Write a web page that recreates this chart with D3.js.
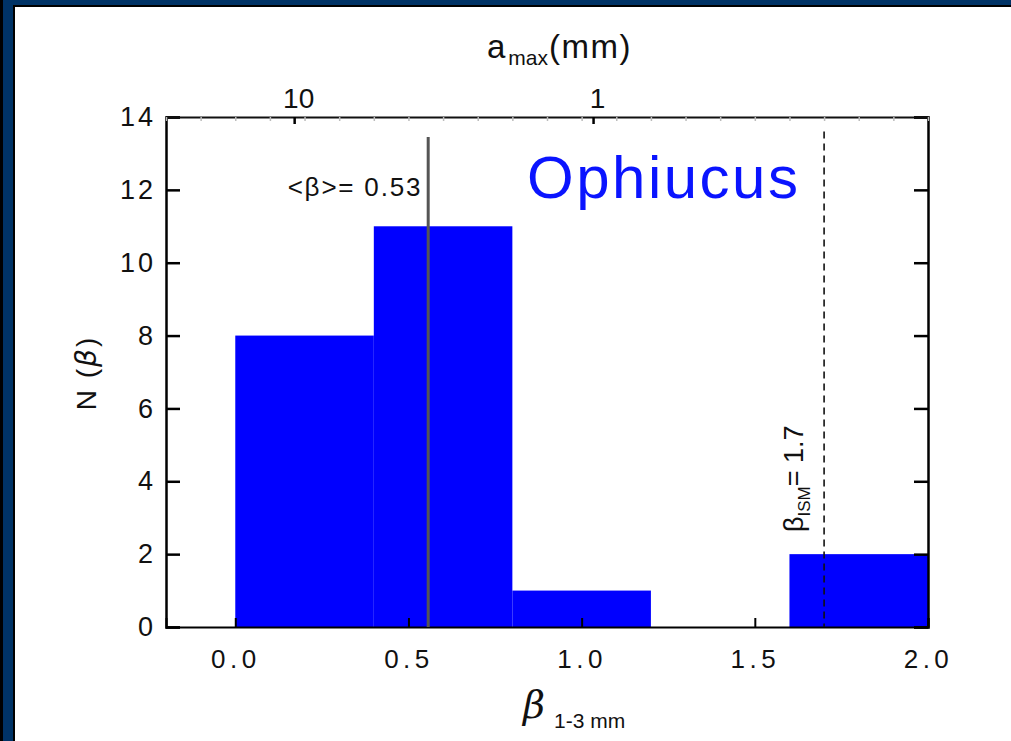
<!DOCTYPE html>
<html><head><meta charset="utf-8">
<script src="https://cdn.jsdelivr.net/npm/d3@7"></script>
<style>
html,body{margin:0;padding:0;background:#fff;overflow:hidden;}
svg{display:block;}
</style></head>
<body>
<svg id="c" width="1011" height="741"></svg>
<script>
// ---- data ----
const binStarts = [0.0, 0.4, 0.8, 1.2, 1.6];
const binWidth = 0.4;
const counts = [8, 11, 1, 0, 2];
const meanBeta = 0.557;          // position of the drawn mean line
const meanLabel = "<β>= 0.53";
const betaISM = 1.7;
const xMajorTicks = [0.0, 0.5, 1.0, 1.5, 2.0];
const yMajorTicks = [0, 2, 4, 6, 8, 10, 12, 14];
const aMaxTickLabels = ["10", "1"];
const aMaxTickBeta = [0.17, 1.033]; // beta positions of a_max = 10, 1 mm

const svg = d3.select("#c");
const W = 1011, H = 741;
const L = 166, R = 928, T = 117, B = 627;

// frame
svg.append("rect").attr("x",0).attr("y",0).attr("width",W).attr("height",H).attr("fill","#fff");
svg.append("rect").attr("x",0).attr("y",0).attr("width",W).attr("height",5).attr("fill","#003366");
svg.append("rect").attr("x",0).attr("y",5).attr("width",W).attr("height",2).attr("fill","#000");
svg.append("rect").attr("x",0).attr("y",0).attr("width",3).attr("height",H).attr("fill","#000");
svg.append("rect").attr("x",3).attr("y",0).attr("width",11).attr("height",H).attr("fill","#003366");
svg.append("rect").attr("x",13).attr("y",5).attr("width",2).attr("height",H).attr("fill","#000");

const x = d3.scaleLinear().domain([-0.2, 2.0]).range([L, R]);
const y = d3.scaleLinear().domain([0, 14]).range([B, T]);

// bars
svg.append("g").selectAll("rect").data(binStarts).join("rect")
  .attr("x", (d) => x(d))
  .attr("width", (d) => x(d + binWidth) - x(d))
  .attr("y", (d, i) => y(counts[i]))
  .attr("height", (d, i) => y(0) - y(counts[i]))
  .attr("fill", "#0000ff");

const tickFont = "'Liberation Sans', Arial, sans-serif";

// minor tick values
const xMinor = d3.range(-2, 21).map(i => i / 10);
const yMinor = d3.range(0, 29).map(i => i / 2);

// left axis
const gl = svg.append("g").attr("transform", `translate(${L},0)`);
gl.call(d3.axisLeft(y).tickValues(yMinor).tickSize(-7).tickFormat(""));
gl.call(d3.axisLeft(y).tickValues(yMajorTicks).tickSize(-14).tickPadding(10).tickFormat(d3.format("d")));
gl.selectAll("path.domain").attr("stroke-width", 2.5).attr("stroke","#000");
gl.selectAll("line").attr("stroke-width", 2.5).attr("stroke","#000");
gl.selectAll("text").attr("font-family", tickFont).attr("font-size", 27).attr("letter-spacing", 3).attr("fill","#111");

// right axis
const gr = svg.append("g").attr("transform", `translate(${R},0)`);
gr.call(d3.axisRight(y).tickValues(yMinor).tickSize(-7).tickFormat(""));
gr.call(d3.axisRight(y).tickValues(yMajorTicks).tickSize(-14).tickFormat(""));
gr.selectAll("path.domain").attr("stroke-width", 2.5).attr("stroke","#000");
gr.selectAll("line").attr("stroke-width", 2.5).attr("stroke","#000");

// bottom axis
const gb = svg.append("g").attr("transform", `translate(0,${B})`);
gb.call(d3.axisBottom(x).tickValues(xMinor).tickSize(-5).tickFormat(""));
gb.call(d3.axisBottom(x).tickValues(xMajorTicks).tickSize(-9).tickPadding(23).tickFormat(d3.format(".1f")));
gb.selectAll("path.domain").attr("stroke-width", 2).attr("stroke","#000");
gb.selectAll("line").attr("stroke-width", 2).attr("stroke","#000");
gb.selectAll("text").attr("font-family", tickFont).attr("font-size", 26).attr("letter-spacing", 4.5).attr("fill","#111");

// top axis (mirror ticks, faint) and a_max ticks
const gt = svg.append("g").attr("transform", `translate(0,${T})`);
gt.call(d3.axisTop(x).tickValues(xMinor).tickSize(-4).tickFormat(""));
gt.selectAll("line").attr("stroke", "#bbb").attr("stroke-width", 1.5);
gt.selectAll("path.domain").attr("stroke-width", 2).attr("stroke","#111");
const gt2 = svg.append("g").attr("transform", `translate(0,${T})`);
gt2.call(d3.axisTop(x).tickValues(aMaxTickBeta).tickSize(-7).tickPadding(9)
  .tickFormat((d, i) => aMaxTickLabels[i]));
gt2.select("path.domain").remove();
gt2.selectAll("line").attr("stroke", "#000").attr("stroke-width", 2.5);
gt2.selectAll("text").attr("font-family", tickFont).attr("font-size", 28).attr("dx", 4).attr("fill","#111");

// mean line
svg.append("line").attr("x1", x(meanBeta)).attr("x2", x(meanBeta))
  .attr("y1", y(13.45)).attr("y2", y(0))
  .attr("stroke", "#555").attr("stroke-width", 3);
svg.append("text").attr("x", x(meanBeta) - 6).attr("y", 196)
  .attr("text-anchor", "end").attr("font-family", tickFont).attr("font-size", 26).attr("letter-spacing", 1.8).attr("fill","#111")
  .text(meanLabel);

// ISM dashed line
svg.append("line").attr("x1", x(betaISM)).attr("x2", x(betaISM))
  .attr("y1", y(13.6)).attr("y2", y(0))
  .attr("stroke", "#111").attr("stroke-width", 1.6).attr("stroke-dasharray", "7,5");
const ism = svg.append("text")
  .attr("transform", `translate(${x(betaISM) - 21},532) rotate(-90)`)
  .attr("font-family", tickFont).attr("font-size", 27).attr("fill","#111");
ism.append("tspan").text("β");
ism.append("tspan").attr("font-size", 17).attr("dy", 7).text("ISM");
ism.append("tspan").attr("dy", -7).text("= 1.7");

// Ophiucus
svg.append("text").attr("x", 527).attr("y", 198)
  .attr("font-family", tickFont).attr("font-size", 60).attr("letter-spacing", 2.5).attr("fill", "#0a14ff")
  .text("Ophiucus");

// top title a_max (mm)
const tt = svg.append("text").attr("x", 487).attr("y", 58)
  .attr("font-family", tickFont).attr("font-size", 33).attr("fill","#111");
tt.append("tspan").text("a");
tt.append("tspan").attr("font-size", 21).attr("dy", 7).attr("dx", 3).text("max");
tt.append("tspan").attr("dy", -7).attr("dx", 1).attr("letter-spacing", 1.5).text("(mm)");

// y label
const yl = svg.append("text")
  .attr("transform", "translate(96,373) rotate(-90)")
  .attr("text-anchor", "middle")
  .attr("font-family", tickFont).attr("font-size", 28).attr("letter-spacing", 2).attr("fill","#111");
yl.append("tspan").text("N (");
yl.append("tspan").attr("font-style", "italic").attr("font-family","'DejaVu Sans', sans-serif").text("β");
yl.append("tspan").text(")");

// x label
const xl = svg.append("text").attr("x", 523).attr("y", 718)
  .attr("fill","#111");
xl.append("tspan").attr("font-family", "'DejaVu Serif', serif").attr("font-style","italic").attr("font-size", 38).text("β");
xl.append("tspan").attr("font-family", tickFont).attr("font-size", 21).attr("dx", 9).attr("dy", 10).text("1-3 mm");
</script>
</body></html>
